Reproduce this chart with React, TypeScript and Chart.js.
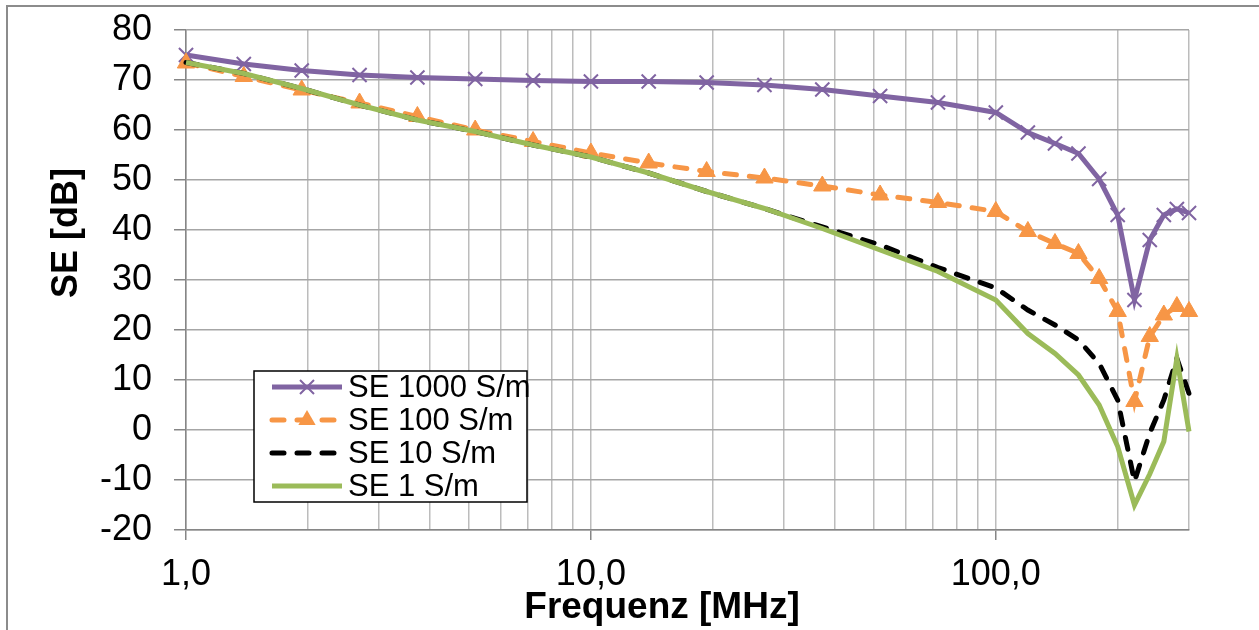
import { useEffect, useRef } from 'react';
import { Chart, registerables } from 'chart.js';

Chart.register(...registerables);

// ---- data ----
const frequencies = [1, 1.389, 1.931, 2.683, 3.728, 5.179, 7.197, 10, 13.89, 19.31, 26.83, 37.28, 51.79, 71.97, 100, 120, 140, 160, 180, 200, 220, 240, 260, 280, 300];
const se1000 = [75.0, 73.2, 71.9, 71.0, 70.5, 70.2, 69.9, 69.7, 69.7, 69.5, 69.0, 68.1, 66.8, 65.5, 63.5, 59.5, 57.3, 55.3, 50.2, 43.0, 26.0, 38.0, 43.0, 44.2, 43.4];
const se100 = [73.4, 70.7, 68.0, 65.4, 62.7, 60.0, 57.7, 55.4, 53.4, 51.7, 50.4, 48.8, 47.0, 45.5, 43.7, 39.7, 37.3, 35.3, 30.3, 23.7, 5.7, 18.7, 23.0, 24.7, 23.7];
const se10 = [73.5, 71.3, 68.3, 65.0, 62.0, 59.7, 57.0, 54.6, 51.4, 47.7, 44.3, 40.6, 37.0, 32.5, 28.4, 24.0, 21.0, 18.0, 13.3, 6.0, -10.3, -0.6, 6.0, 14.3, 7.3];
const se1 = [73.5, 71.3, 68.3, 65.0, 62.0, 59.7, 57.0, 54.6, 51.4, 47.7, 44.3, 40.3, 36.0, 31.7, 26.0, 19.3, 15.3, 11.0, 5.0, -3.3, -15.0, -8.8, -2.3, 14.3, -0.3];
const seriesLabels = ['SE 1000 S/m', 'SE 100 S/m', 'SE 10 S/m', 'SE 1 S/m'];
const xGridValues = [1, 2, 3, 4, 5, 6, 7, 8, 9, 10, 20, 30, 40, 50, 60, 70, 80, 90, 100, 200, 300];
const xLabeledTicks = [1, 10, 100];
const xTitle = 'Frequenz [MHz]';
const yTitle = 'SE [dB]';

const toPoints = (vals: number[]) => frequencies.map((f, i) => ({ x: f, y: vals[i] }));

const PURPLE = '#8064A2';
const ORANGE = '#F79646';
const BLACK = '#000000';
const GREEN = '#9BBB59';

const frame = {
  id: 'frame',
  beforeDraw(chart: any) {
    const ctx = chart.ctx;
    ctx.save();
    ctx.fillStyle = '#ffffff';
    ctx.fillRect(0, 0, chart.width, chart.height);
    ctx.strokeStyle = '#8c8c8c';
    ctx.lineWidth = 2;
    ctx.strokeRect(7, 6, 1400, 800);
    ctx.restore();
  },
  afterDraw(chart: any) {
    const ctx = chart.ctx;
    ctx.save();
    // axis titles
    ctx.fillStyle = '#000';
    ctx.font = 'bold 37px "Liberation Sans", Arial, sans-serif';
    ctx.textAlign = 'center';
    ctx.textBaseline = 'alphabetic';
    ctx.fillText(xTitle, 662, 618);
    ctx.save();
    ctx.translate(77, 233);
    ctx.rotate(-Math.PI / 2);
    ctx.font = 'bold 36px "Liberation Sans", Arial, sans-serif';
    ctx.fillText(yTitle, 0, 0);
    ctx.restore();

    // legend box
    const x0 = 254, y0 = 371, w = 273, h = 131;
    ctx.fillStyle = '#fff';
    ctx.fillRect(x0, y0, w, h);
    const dsList = chart.data.datasets;
    dsList.forEach((ds: any, i: number) => {
      const cy = 387 + i * 33;
      ctx.save();
      ctx.beginPath();
      ctx.setLineDash(ds.borderDash || []);
      ctx.lineCap = ds.borderCapStyle || 'butt';
      ctx.strokeStyle = ds.borderColor;
      ctx.lineWidth = ds.borderWidth;
      ctx.moveTo(272, cy);
      ctx.lineTo(342, cy);
      ctx.stroke();
      ctx.setLineDash([]);
      const mx = 307;
      if (ds.pointStyle === 'crossRot' && ds.pointRadius > 0) {
        const r = ds.pointRadius * 0.7;
        ctx.beginPath();
        ctx.lineWidth = ds.pointBorderWidth;
        ctx.strokeStyle = ds.pointBorderColor;
        ctx.moveTo(mx - r, cy - r); ctx.lineTo(mx + r, cy + r);
        ctx.moveTo(mx - r, cy + r); ctx.lineTo(mx + r, cy - r);
        ctx.stroke();
      } else if (ds.pointStyle === 'triangle' && ds.pointRadius > 0) {
        const r = ds.pointRadius;
        ctx.beginPath();
        ctx.fillStyle = ds.pointBackgroundColor;
        ctx.moveTo(mx, cy - r);
        ctx.lineTo(mx + r * 0.866, cy + r * 0.5);
        ctx.lineTo(mx - r * 0.866, cy + r * 0.5);
        ctx.closePath();
        ctx.fill();
      }
      ctx.restore();
      ctx.fillStyle = '#000';
      ctx.font = '31px "Liberation Sans", Arial, sans-serif';
      ctx.textAlign = 'left';
      ctx.textBaseline = 'middle';
      ctx.fillText(ds.label, 348, cy + 1);
    });
    ctx.strokeStyle = '#000';
    ctx.lineWidth = 1.5;
    ctx.strokeRect(x0, y0, w, h);
    ctx.restore();
  },
};

export default function App() {
  const ref = useRef<HTMLCanvasElement | null>(null);

  useEffect(() => {
    document.body.style.margin = '0';
    const canvas = ref.current;
    if (!canvas) return;
    const tickFont = { family: '"Liberation Sans", Arial, sans-serif', size: 36 };
    const chart = new Chart(canvas, {
      type: 'line',
      data: {
        datasets: [
          {
            label: seriesLabels[0],
            data: toPoints(se1000),
            borderColor: PURPLE,
            backgroundColor: PURPLE,
            borderWidth: 5,
            pointStyle: 'crossRot',
            pointRadius: 10,
            pointBorderWidth: 2,
            pointBorderColor: PURPLE,
            pointBackgroundColor: PURPLE,
            order: 3,
          },
          {
            label: seriesLabels[1],
            data: toPoints(se100),
            borderColor: ORANGE,
            backgroundColor: ORANGE,
            borderWidth: 5,
            borderDash: [12, 13],
            borderCapStyle: 'round',
            pointStyle: 'triangle',
            pointRadius: 10,
            pointBorderWidth: 1,
            pointBorderColor: ORANGE,
            pointBackgroundColor: ORANGE,
            order: 2,
          },
          {
            label: seriesLabels[2],
            data: toPoints(se10),
            borderColor: BLACK,
            backgroundColor: BLACK,
            borderWidth: 5,
            borderDash: [12, 13],
            borderCapStyle: 'round',
            pointRadius: 0,
            order: 1,
          },
          {
            label: seriesLabels[3],
            data: toPoints(se1),
            borderColor: GREEN,
            backgroundColor: GREEN,
            borderWidth: 5,
            pointRadius: 0,
            order: 0,
          },
        ] as any,
      },
      options: {
        responsive: false,
        animation: false,
        devicePixelRatio: 1,
        layout: { padding: { top: 30, right: 70, bottom: 0, left: 0 } },
        elements: { line: { tension: 0 } },
        datasets: { line: { clip: false } } as any,
        plugins: {
          legend: { display: false },
          tooltip: { enabled: false },
        },
        scales: {
          x: {
            type: 'logarithmic',
            min: 1,
            max: 300,
            afterBuildTicks: (scale: any) => {
              scale.ticks = xGridValues.map((v) => ({ value: v, major: xLabeledTicks.includes(v) }));
            },
            afterFit: (scale: any) => {
              scale.height = 100;
              scale.paddingLeft = 0;
              scale.paddingRight = 0;
            },
            border: { display: true, color: '#868686', width: 1.5 },
            grid: {
              color: '#bcbcbc',
              lineWidth: 1.5,
              drawTicks: true,
              tickLength: 10,
              tickColor: (c: any) => (c.tick && xLabeledTicks.includes(c.tick.value) ? '#868686' : 'rgba(0,0,0,0)'),
            },
            ticks: {
              autoSkip: false,
              maxRotation: 0,
              minRotation: 0,
              padding: 13,
              color: '#000',
              font: tickFont,
              callback: (value: any) => {
                const v = Number(value);
                return xLabeledTicks.includes(v) ? v.toFixed(1).replace('.', ',') : '';
              },
            },
            title: { display: false },
          },
          y: {
            type: 'linear',
            min: -20,
            max: 80,
            afterFit: (scale: any) => {
              scale.width = 186;
              scale.paddingTop = 0;
              scale.paddingBottom = 0;
            },
            border: { display: true, color: '#868686', width: 1.5 },
            grid: {
              color: '#a6a6a6',
              lineWidth: 1.5,
              drawTicks: true,
              tickLength: 12,
              tickColor: '#868686',
            },
            ticks: {
              stepSize: 10,
              padding: 22,
              color: '#000',
              font: tickFont,
            },
            title: { display: false },
          },
        },
      },
      plugins: [frame],
    });
    return () => chart.destroy();
  }, []);

  return (
    <div style={{ width: 1259, height: 630, overflow: 'hidden', position: 'relative' }}>
      <canvas ref={ref} width={1259} height={630} style={{ width: 1259, height: 630, display: 'block' }} />
    </div>
  );
}
